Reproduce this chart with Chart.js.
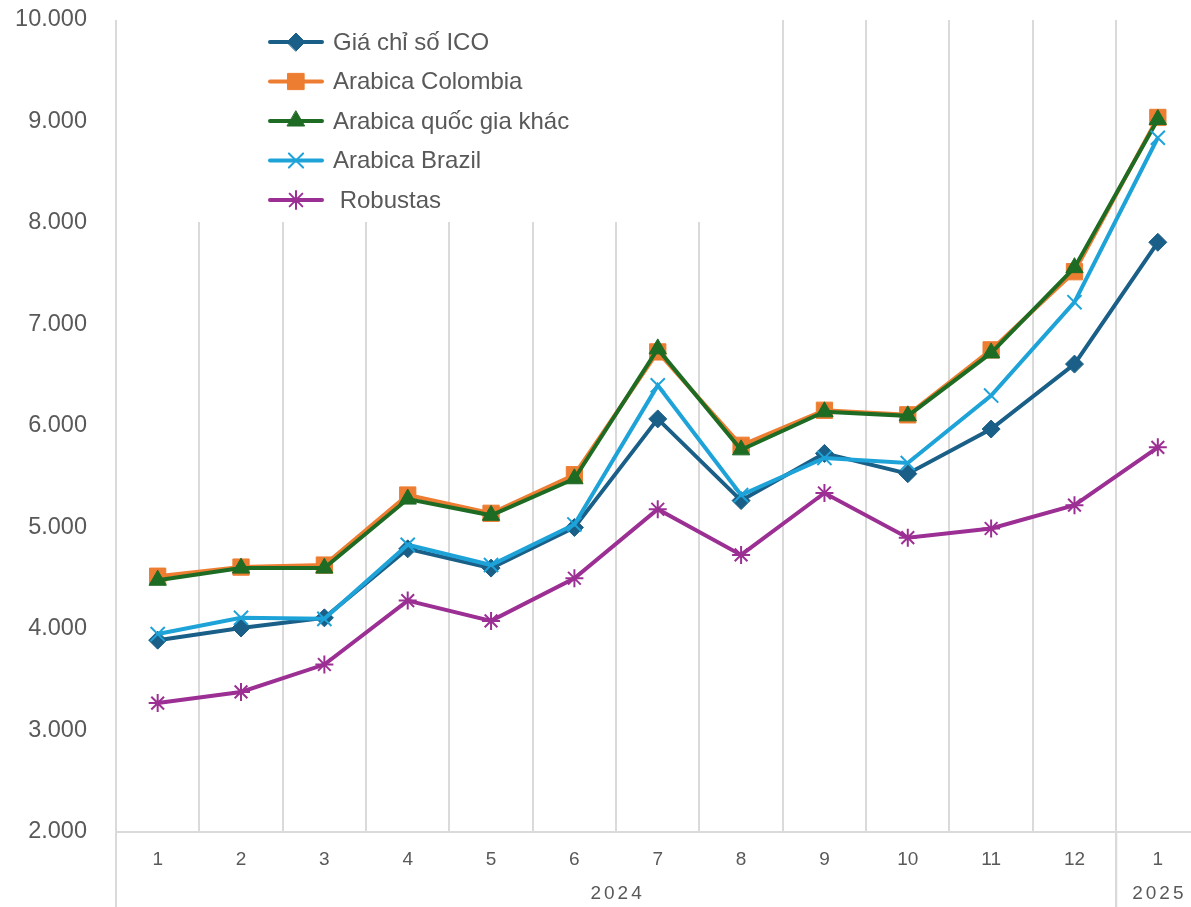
<!DOCTYPE html>
<html>
<head>
<meta charset="utf-8">
<title>Giá cà phê ICO</title>
<script src="https://cdn.jsdelivr.net/npm/chart.js@4.4.1/dist/chart.umd.min.js"></script>
<style>
    html, body { margin: 0; padding: 0; background: #fff; overflow: hidden; }
    #wrap { width: 1191px; height: 907px; overflow: hidden; }
</style>
</head>
<body>
<div id="wrap"><canvas id="priceChart" width="1212" height="907"></canvas></div>
<script>
// month labels and year groups (index ranges into months)
const months = ['1', '2', '3', '4', '5', '6', '7', '8', '9', '10', '11', '12', '1'];
const yearGroups = [
    { label: '2024', from: 0, to: 11 },
    { label: '2025', from: 12, to: 12 }
];

// series values
const icoIndex     = [3890, 4010, 4110, 4790, 4600, 5000, 6070, 5265, 5730, 5530, 5970, 6610, 7810];
const colombia     = [4520, 4610, 4630, 5320, 5140, 5520, 6730, 5810, 6155, 6110, 6750, 7520, 9040];
const otherArabica = [4480, 4600, 4600, 5280, 5120, 5480, 6760, 5765, 6140, 6100, 6720, 7560, 9020];
const brazil       = [3950, 4110, 4100, 4830, 4630, 5030, 6400, 5320, 5685, 5635, 6300, 7220, 8840];
const robustas     = [3270, 3380, 3650, 4280, 4080, 4500, 5180, 4730, 5340, 4900, 4990, 5220, 5790];

const yTicks = [2000, 3000, 4000, 5000, 6000, 7000, 8000, 9000, 10000];

const textColor = '#595959';
const gridColor = '#dadada';

function series(label, data, color, style, radius, order, pointBorder) {
    return {
        label: label,
        data: data,
        borderColor: color,
        backgroundColor: color,
        borderWidth: 4,
        pointStyle: style,
        pointRadius: radius,
        pointHoverRadius: radius,
        pointBorderWidth: pointBorder,
        pointBorderColor: color,
        pointBackgroundColor: color,
        tension: 0,
        order: order
    };
}

const datasets = [
    series('Giá chỉ số ICO', icoIndex, '#1a5f87', 'rectRot', 9, 5, 1),
    series('Arabica Colombia', colombia, '#ed7d31', 'rect', 11.5, 4, 1),
    series('Arabica quốc gia khác', otherArabica, '#1e6b24', 'triangle', 10, 3, 1),
    series('Arabica Brazil', brazil, '#1ea3d9', 'crossRot', 10, 2, 2),
    series(' Robustas', robustas, '#9c2f93', 'star', 9, 1, 2)
];

// legend drawn inside the plot, top-left, on a white box
const insideLegend = {
    id: 'insideLegend',
    afterDraw(chart) {
        const ctx = chart.ctx;
        ctx.save();
        ctx.fillStyle = '#ffffff';
        ctx.fillRect(192, chart.chartArea.top - 3, 570, 205);
        ctx.font = '24px "Liberation Sans", Arial, sans-serif';
        ctx.textBaseline = 'middle';
        ctx.textAlign = 'left';
        chart.data.datasets.forEach((ds, i) => {
            const y = 42 + i * 39.5;
            ctx.strokeStyle = ds.borderColor;
            ctx.lineWidth = 4;
            ctx.lineCap = 'round';
            ctx.beginPath();
            ctx.moveTo(270, y);
            ctx.lineTo(322, y);
            ctx.stroke();
            ctx.fillStyle = ds.pointBackgroundColor;
            ctx.lineWidth = ds.pointBorderWidth;
            Chart.helpers.drawPoint(ctx, {
                pointStyle: ds.pointStyle,
                radius: ds.pointRadius,
                borderWidth: ds.pointBorderWidth,
                rotation: 0
            }, 296, y);
            ctx.fillStyle = textColor;
            ctx.fillText(ds.label, 333, y + 1);
        });
        ctx.restore();
    }
};

// second row of x labels (years) with separators
const yearAxis = {
    id: 'yearAxis',
    afterDraw(chart) {
        const ctx = chart.ctx;
        const x = chart.scales.x;
        const half = (x.getPixelForValue(1) - x.getPixelForValue(0)) / 2;
        const bottom = chart.chartArea.bottom;
        ctx.save();
        ctx.strokeStyle = gridColor;
        ctx.lineWidth = 2;
        ctx.fillStyle = textColor;
        ctx.font = '19px "Liberation Sans", Arial, sans-serif';
        ctx.textAlign = 'center';
        ctx.textBaseline = 'middle';
        ctx.letterSpacing = '3px';
        yearGroups.forEach(g => {
            const left = x.getPixelForValue(g.from) - half;
            const right = x.getPixelForValue(g.to) + half;
            ctx.beginPath();
            ctx.moveTo(left, bottom);
            ctx.lineTo(left, chart.height);
            ctx.moveTo(right, bottom);
            ctx.lineTo(right, chart.height);
            ctx.stroke();
            ctx.fillText(g.label, (left + right) / 2 + 1.5, 894);
        });
        ctx.restore();
    }
};

const ctx = document.getElementById('priceChart').getContext('2d');
const priceChart = new Chart(ctx, {
    type: 'line',
    data: { labels: months, datasets: datasets },
    options: {
        responsive: false,
        animation: false,
        layout: { padding: { top: 20, left: 0, right: 0, bottom: 0 } },
        plugins: {
            legend: { display: false },
            tooltip: { enabled: false }
        },
        scales: {
            x: {
                offset: true,
                grid: { offset: true, color: gridColor, lineWidth: 2, drawTicks: false },
                border: { display: true, color: gridColor, width: 2 },
                ticks: {
                    color: textColor,
                    padding: 16,
                    maxRotation: 0,
                    autoSkip: false,
                    font: { family: '"Liberation Sans", Arial, sans-serif', size: 19 }
                },
                afterFit(scale) {
                    scale.height = 75;
                    scale.paddingLeft = 0;
                    scale.paddingRight = 0;
                }
            },
            y: {
                min: 2000,
                max: 10000,
                grid: { display: false, drawTicks: false },
                border: { display: false },
                afterBuildTicks(scale) { scale.ticks = yTicks.map(v => ({ value: v })); },
                ticks: {
                    color: textColor,
                    padding: 29,
                    font: { family: '"Liberation Sans", Arial, sans-serif', size: 23.5 },
                    callback: v => v.toString().replace(/\B(?=(\d{3})+(?!\d))/g, '.')
                },
                afterFit(scale) {
                    scale.width = 116;
                    scale.paddingTop = 0;
                    scale.paddingBottom = 0;
                }
            }
        }
    },
    plugins: [insideLegend, yearAxis]
});
</script>
</body>
</html>
